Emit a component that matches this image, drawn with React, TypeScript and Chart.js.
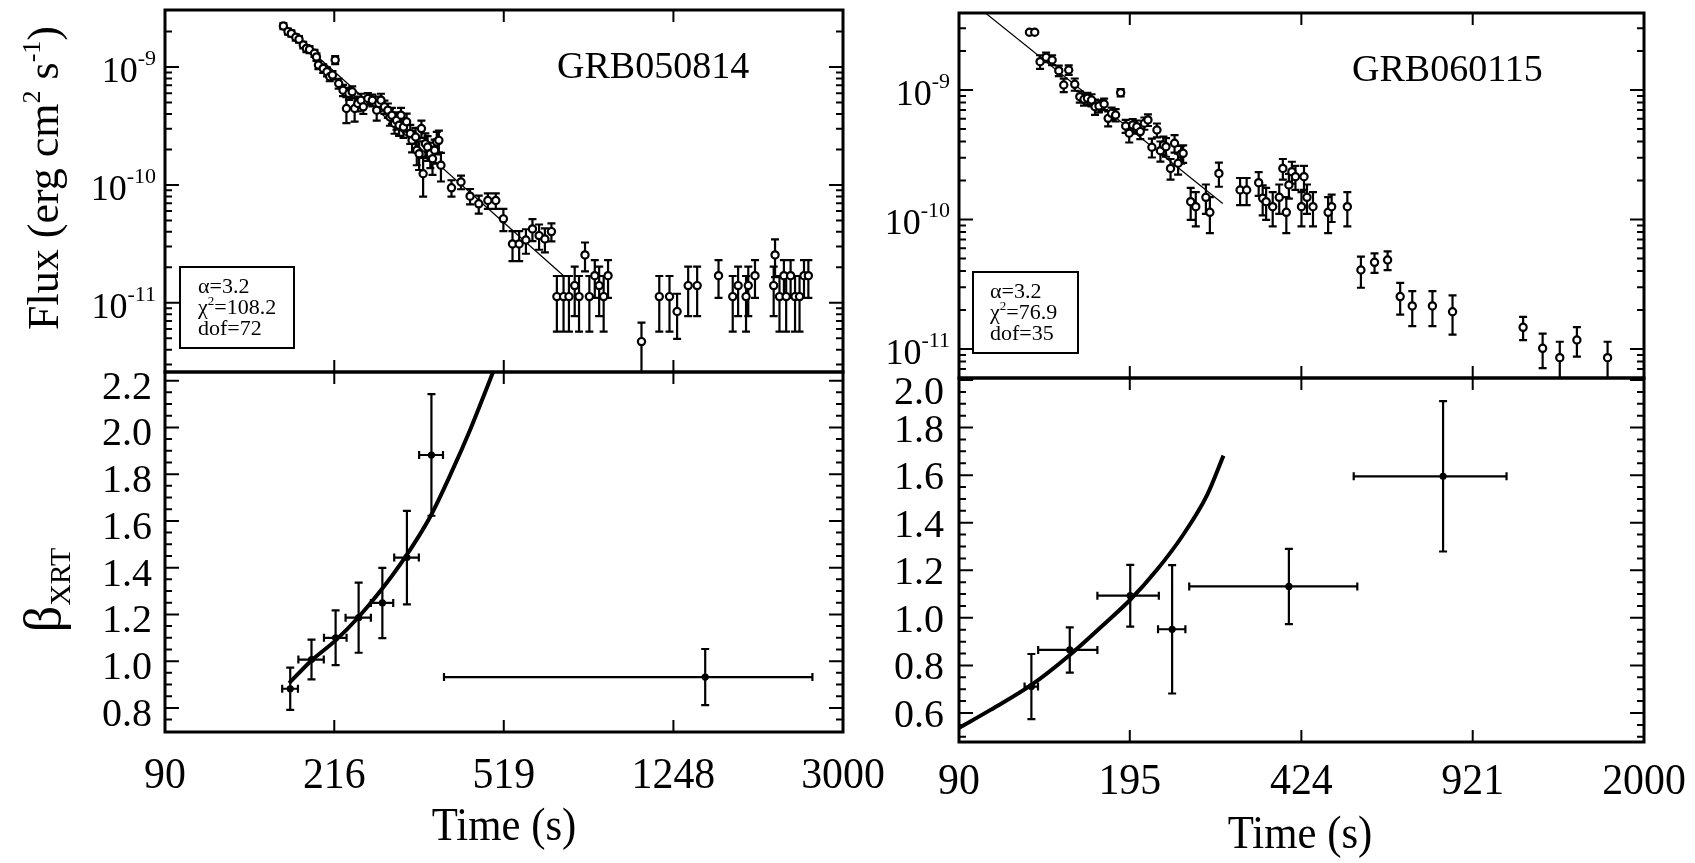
import React, { useEffect, useRef } from "react";
import { Chart, registerables } from "chart.js";

Chart.register(...registerables);

const W = 1695;
const H = 863;
const FONT = '"Liberation Serif", "Times New Roman", Times, serif';

// ---------------- tick labels ----------------
const L_X_TICKS = [90, 216, 519, 1248, 3000];
const R_X_TICKS = [90, 195, 424, 921, 2000];
const FLUX_TICKS = [1e-11, 1e-10, 1e-9];
const L_BETA_TICKS = [0.8, 1.0, 1.2, 1.4, 1.6, 1.8, 2.0, 2.2];
const R_BETA_TICKS = [0.6, 0.8, 1.0, 1.2, 1.4, 1.6, 1.8, 2.0];

// ---------------- GRB050814 : flux ----------------
const L_FLUX_T = [
  166, 170, 173, 177, 180, 184, 187, 190, 195, 197, 199, 204, 208, 211, 214, 217,
  221, 226, 230, 233, 237, 240, 244, 248, 251, 257, 263, 269, 272, 275, 280, 285,
  288, 291, 295, 298, 302, 305, 309, 314, 320, 323, 329, 331, 335, 339, 342, 346,
  350, 355, 359, 363, 367, 371, 375,
  396, 416, 436, 456, 478, 498, 518, 543, 562, 582, 602, 623, 642, 664,
  683, 707, 727, 749, 766, 790, 808, 831, 850, 870, 890,
  1058, 1160, 1223, 1272, 1347, 1411, 1576, 1696, 1744, 1817, 1838, 1903, 2096, 2111,
  2160, 2210, 2236, 2288, 2341, 2396, 2452, 2508,
];
const L_FLUX = [
  2.23e-9, 2.0e-9, 1.93e-9, 1.79e-9, 1.72e-9, 1.54e-9, 1.44e-9, 1.41e-9, 1.31e-9, 1.22e-9, 1.04e-9, 9.74e-10, 9.13e-10, 8.28e-10, 8.55e-10, 1.15e-9,
  7.26e-10, 6.37e-10, 4.45e-10, 5.97e-10, 6.17e-10, 4.45e-10, 4.91e-10, 5.24e-10, 4.6e-10, 5.41e-10, 5.24e-10, 4.31e-10, 4.91e-10, 5.24e-10, 4.6e-10, 4.31e-10,
  3.78e-10, 3.9e-10, 3.32e-10, 3.54e-10, 3.21e-10, 3.9e-10, 3.11e-10, 3.43e-10, 2.73e-10, 2.39e-10, 2.55e-10, 1.97e-10, 1.84e-10, 3.01e-10, 1.245e-10, 2.24e-10,
  2.1e-10, 1.84e-10, 1.67e-10, 1.97e-10, 2.32e-10, 2.39e-10, 1.47e-10,
  9.46e-11, 1.06e-10, 8.04e-11, 6.92e-11, 7.38e-11, 7.38e-11, 5.16e-11, 3.16e-11, 3.16e-11, 3.41e-11, 4.24e-11, 3.72e-11, 3.48e-11, 4.02e-11,
  1.13e-11, 1.13e-11, 1.13e-11, 1.4e-11, 1.13e-11, 2.55e-11, 1.13e-11, 1.7e-11, 1.4e-11, 1.13e-11, 1.7e-11,
  4.69e-12, 1.13e-11, 1.13e-11, 8.44e-12, 1.4e-11, 1.4e-11, 1.7e-11, 1.13e-11, 1.4e-11, 1.13e-11, 1.4e-11, 1.7e-11, 1.4e-11, 2.55e-11,
  1.13e-11, 1.7e-11, 1.13e-11, 1.7e-11, 1.13e-11, 1.13e-11, 1.7e-11, 1.7e-11,
];
const L_FLUX_ERR = [
  1.3e-10, 1.2e-10, 1.2e-10, 1.1e-10, 1.1e-10, 1.0e-10, 1.0e-10, 1.0e-10, 0.9e-10, 0.9e-10, 0.8e-10, 0.8e-10, 0.8e-10, 0.7e-10, 0.7e-10, 0.9e-10,
  0.7e-10, 0.7e-10, 1.1e-10, 0.7e-10, 0.7e-10, 1.0e-10, 0.7e-10, 0.7e-10, 0.6e-10, 0.6e-10, 0.6e-10, 0.8e-10, 0.7e-10, 0.7e-10, 0.6e-10, 0.6e-10,
  0.6e-10, 0.6e-10, 0.6e-10, 0.6e-10, 0.6e-10, 0.6e-10, 0.6e-10, 0.6e-10, 0.5e-10, 0.5e-10, 0.5e-10, 0.5e-10, 0.5e-10, 0.5e-10, 0.45e-10, 0.5e-10,
  0.5e-10, 0.45e-10, 0.45e-10, 0.45e-10, 0.5e-10, 0.5e-10, 0.4e-10,
  1.5e-11, 1.4e-11, 1.2e-11, 1.2e-11, 1.1e-11, 1.1e-11, 1.1e-11, 0.9e-11, 0.9e-11, 0.8e-11, 0.9e-11, 0.9e-11, 0.8e-11, 0.7e-11,
  0.56e-11, 0.56e-11, 0.56e-11, 0.63e-11, 0.56e-11, 0.7e-11, 0.56e-11, 0.6e-11, 0.63e-11, 0.56e-11, 0.6e-11,
  0.21e-11, 0.56e-11, 0.56e-11, 0.35e-11, 0.63e-11, 0.63e-11, 0.6e-11, 0.56e-11, 0.63e-11, 0.56e-11, 0.63e-11, 0.6e-11, 0.63e-11, 0.9e-11,
  0.56e-11, 0.6e-11, 0.56e-11, 0.6e-11, 0.56e-11, 0.56e-11, 0.6e-11, 0.6e-11,
];
const L_FIT_T = [180, 707];
const L_FIT_F = [1.69e-9, 1.7e-11];

// ---------------- GRB050814 : beta ----------------
const L_BETA_T = [172, 192, 217.5, 245, 277, 314.5, 357, 1471];
const L_BETA_TERR = [7, 12.6, 12.7, 16, 16, 20, 22, 1090];
const L_BETA = [0.882, 1.007, 1.1, 1.186, 1.249, 1.443, 1.882, 0.932];
const L_BETA_ERR = [0.09, 0.085, 0.117, 0.15, 0.15, 0.2, 0.26, 0.12];
const L_BFIT_T = [171, 192, 217.5, 245, 275, 312, 354.5, 398, 436, 467, 491.5];
const L_BFIT = [0.906, 1.003, 1.089, 1.189, 1.303, 1.446, 1.617, 1.817, 1.989, 2.131, 2.239];

// ---------------- GRB060115 : flux ----------------
const R_FLUX_T = [
  123.8, 126.8, 129.9, 133.5, 137.2, 141.4, 144.6, 147.9, 152.0, 155.5, 158.5, 161.0, 164.0, 166.6, 169.6, 173.6,
  176.8, 179.6, 182.9, 187.1, 191.4, 194.5, 197.6, 201.3, 204.5, 208.3, 211.7, 215.5, 220.5, 224.0, 227.1, 229.7,
  234.5, 238.8, 242.7, 246.0, 248.3, 256.9, 262.9, 275.2, 280.2, 291.9, 321.3, 331.0, 349.5, 355.9, 361.5, 372.4,
  383.6, 389.9, 396.1, 400.7, 406.2, 412.8, 424.2, 429.1, 434.9, 446.9, 478.6, 486.3, 522.1,
  555.2, 590.5, 626.5, 663.2, 700.5, 767.5, 840.6, 1157, 1264, 1366, 1476, 1696,
];
const R_FLUX = [
  2.79e-9, 2.79e-9, 1.655e-9, 1.79e-9, 1.705e-9, 1.41e-9, 1.093e-9, 1.427e-9, 1.106e-9, 8.88e-10, 8.47e-10, 8.62e-10, 8.37e-10, 7.43e-10, 7.52e-10, 7.79e-10,
  6.04e-10, 6.6e-10, 6.41e-10, 9.54e-10, 5.27e-10, 4.63e-10, 5.37e-10, 5.21e-10, 4.77e-10, 5.53e-10, 5.87e-10, 3.61e-10, 4.91e-10, 3.4e-10, 3.76e-10, 3.65e-10,
  2.48e-10, 3.88e-10, 2.72e-10, 3.2e-10, 3.24e-10, 1.373e-10, 1.256e-10, 1.483e-10, 1.136e-10, 2.27e-10, 1.69e-10, 1.69e-10, 1.924e-10, 1.457e-10, 1.373e-10, 1.256e-10,
  1.483e-10, 2.48e-10, 1.136e-10, 1.85e-10, 2.34e-10, 2.14e-10, 1.256e-10, 2.14e-10, 1.483e-10, 1.256e-10, 1.136e-10, 1.256e-10, 1.256e-10,
  4.07e-11, 4.67e-11, 4.87e-11, 2.54e-11, 2.15e-11, 2.15e-11, 1.94e-11, 1.47e-11, 1.012e-11, 8.57e-12, 1.174e-11, 8.57e-12,
];
const R_FLUX_ERR = [
  0.06e-9, 0.06e-9, 0.2e-9, 0.15e-9, 0.15e-9, 0.13e-9, 0.13e-9, 0.12e-9, 0.12e-9, 0.9e-10, 0.9e-10, 0.9e-10, 0.9e-10, 1.0e-10, 0.8e-10, 0.8e-10,
  0.8e-10, 0.7e-10, 0.7e-10, 0.6e-10, 0.6e-10, 0.7e-10, 0.6e-10, 0.6e-10, 0.6e-10, 0.6e-10, 0.6e-10, 0.6e-10, 0.6e-10, 0.6e-10, 0.6e-10, 0.6e-10,
  0.45e-10, 0.6e-10, 0.5e-10, 0.5e-10, 0.5e-10, 0.38e-10, 0.37e-10, 0.38e-10, 0.35e-10, 0.48e-10, 0.4e-10, 0.4e-10, 0.4e-10, 0.38e-10, 0.38e-10, 0.37e-10,
  0.38e-10, 0.45e-10, 0.35e-10, 0.4e-10, 0.45e-10, 0.45e-10, 0.37e-10, 0.45e-10, 0.38e-10, 0.37e-10, 0.35e-10, 0.3e-10, 0.37e-10,
  1.1e-11, 0.8e-11, 0.8e-11, 0.7e-11, 0.65e-11, 0.65e-11, 0.65e-11, 0.3e-11, 0.3e-11, 0.28e-11, 0.3e-11, 0.28e-11,
];
const R_FIT_T = [101.6, 297];
const R_FIT_F = [3.91e-9, 1.33e-10];

// ---------------- GRB060115 : beta ----------------
const R_BETA_T = [124.9, 148.6, 195.4, 236.2, 400.7, 805.4];
const R_BETA_TERR = [3.8, 19.8, 27, 14.6, 145.5, 268];
const R_BETA = [0.711, 0.865, 1.093, 0.952, 1.132, 1.595];
const R_BETA_ERR = [0.137, 0.095, 0.13, 0.27, 0.158, 0.316];
const R_BFIT_T = [90, 103.8, 124.9, 148.6, 171.6, 195.4, 220.5, 247.0, 277.0, 298];
const R_BFIT = [0.537, 0.613, 0.718, 0.844, 0.964, 1.076, 1.202, 1.342, 1.518, 1.682];

// ---------------- helpers ----------------
type Seg = { t: string; size: number; dy?: number };

function drawRich(ctx: any, segs: Seg[], x: number, y: number, align: string, sx = 1) {
  const widths = segs.map((s) => {
    ctx.font = `${s.size}px ${FONT}`;
    return ctx.measureText(s.t).width * sx;
  });
  const total = widths.reduce((a, b) => a + b, 0);
  let cx = align === "left" ? x : align === "right" ? x - total : x - total / 2;
  segs.forEach((s, i) => {
    ctx.save();
    ctx.font = `${s.size}px ${FONT}`;
    ctx.textAlign = "left";
    ctx.textBaseline = "alphabetic";
    ctx.translate(cx, y + (s.dy || 0));
    ctx.scale(sx, 1);
    ctx.fillText(s.t, 0, 0);
    ctx.restore();
    cx += widths[i];
  });
}

function logMinor(min: number, max: number) {
  const out: number[] = [];
  for (let e = Math.floor(Math.log10(min)); e <= Math.ceil(Math.log10(max)); e++) {
    for (let k = 2; k <= 9; k++) {
      const v = k * Math.pow(10, e);
      if (v >= min && v <= max) out.push(v);
    }
  }
  return out;
}

function linMinor(min: number, max: number, step: number) {
  const out: number[] = [];
  for (let i = Math.ceil(min / step - 1e-9); i * step <= max + 1e-9; i++) out.push(+(i * step).toFixed(4));
  return out;
}

const pts = (xs: number[], ys: number[]) => xs.map((x, i) => ({ x, y: ys[i] }));

const errorBarPlugin = {
  id: "errbars",
  beforeDatasetsDraw(chart: any) {
    const { ctx, chartArea: a } = chart;
    const xs = chart.scales.x;
    const ys = chart.scales.y;
    ctx.save();
    ctx.beginPath();
    ctx.rect(a.left, a.top, a.right - a.left, a.bottom - a.top);
    ctx.clip();
    ctx.strokeStyle = "#000";
    chart.data.datasets.forEach((ds: any) => {
      if (!ds.yErr && !ds.xErr) return;
      ctx.lineWidth = ds.errWidth || 2;
      const cap = ds.capHalf || 4;
      ctx.beginPath();
      ds.data.forEach((p: any, i: number) => {
        const px = xs.getPixelForValue(p.x);
        const py = ys.getPixelForValue(p.y);
        if (ds.yErr) {
          const e = ds.yErr[i];
          const y1 = ys.getPixelForValue(p.y + e);
          const lo = p.y - e;
          const y2 = lo > 0 ? ys.getPixelForValue(lo) : a.bottom + 20;
          ctx.moveTo(px, y1);
          ctx.lineTo(px, y2);
          ctx.moveTo(px - cap, y1);
          ctx.lineTo(px + cap, y1);
          ctx.moveTo(px - cap, y2);
          ctx.lineTo(px + cap, y2);
        }
        if (ds.xErr) {
          const e = ds.xErr[i];
          const x1 = xs.getPixelForValue(Math.max(p.x - e, 1e-3));
          const x2 = xs.getPixelForValue(p.x + e);
          ctx.moveTo(x1, py);
          ctx.lineTo(x2, py);
          ctx.moveTo(x1, py - cap);
          ctx.lineTo(x1, py + cap);
          ctx.moveTo(x2, py - cap);
          ctx.lineTo(x2, py + cap);
        }
      });
      ctx.stroke();
    });
    ctx.restore();
  },
};

type Area = { left: number; top: number; right: number; bottom: number };
interface Panel {
  area: Area;
  x: [number, number];
  y: [number, number];
  yLog: boolean;
  xTicks: number[];
  xLabels: boolean;
  xLabelBase: number;
  yTicks: number[];
  yMinor: number[];
  yLabel: (v: number) => Seg[];
  yLabelRight: number;
  yLabelDy: (v: number) => number;
  datasets: any[];
  decorate?: (ctx: any) => void;
}

function framePlugin(p: Panel) {
  return {
    id: "frame",
    afterDraw(chart: any) {
      const ctx = chart.ctx;
      const a = chart.chartArea;
      const xs = chart.scales.x;
      const ys = chart.scales.y;
      ctx.save();
      ctx.strokeStyle = "#000";
      ctx.fillStyle = "#000";
      ctx.lineWidth = 2;
      ctx.beginPath();
      p.xTicks.forEach((v) => {
        const x = xs.getPixelForValue(v);
        if (x <= a.left + 2 || x >= a.right - 2) return;
        ctx.moveTo(x, a.top);
        ctx.lineTo(x, a.top + 12);
        ctx.moveTo(x, a.bottom);
        ctx.lineTo(x, a.bottom - 12);
      });
      const yTick = (v: number, len: number) => {
        const y = ys.getPixelForValue(v);
        if (y < a.top + 1 || y > a.bottom - 1) return;
        ctx.moveTo(a.left, y);
        ctx.lineTo(a.left + len, y);
        ctx.moveTo(a.right, y);
        ctx.lineTo(a.right - len, y);
      };
      p.yMinor.forEach((v) => yTick(v, 7));
      p.yTicks.forEach((v) => yTick(v, 14));
      ctx.stroke();
      ctx.lineWidth = 3;
      ctx.strokeRect(a.left, a.top, a.right - a.left, a.bottom - a.top);
      p.yTicks.forEach((v) => {
        const y = ys.getPixelForValue(v);
        drawRich(ctx, p.yLabel(v), p.yLabelRight, y + p.yLabelDy(v), "right");
      });
      if (p.xLabels) {
        p.xTicks.forEach((v) => {
          const x = xs.getPixelForValue(v);
          drawRich(ctx, [{ t: String(v), size: 45 }], x, p.xLabelBase, "center", 0.93);
        });
      }
      if (p.decorate) p.decorate(ctx);
      ctx.restore();
    },
  };
}

const powLabel = (v: number): Seg[] => [
  { t: "10", size: 36 },
  { t: String(Math.round(Math.log10(v))), size: 22, dy: -17 },
];
const numLabel = (v: number): Seg[] => [{ t: v.toFixed(1), size: 40 }];

const fluxPoints = (t: number[], f: number[], e: number[]) => ({
  data: pts(t, f),
  yErr: e,
  errWidth: 2.2,
  capHalf: 4,
  pointRadius: 3.6,
  pointBorderWidth: 2.2,
  pointBorderColor: "#000",
  pointBackgroundColor: "#fff",
});
const betaPoints = (t: number[], te: number[], b: number[], be: number[]) => ({
  data: pts(t, b),
  xErr: te,
  yErr: be,
  errWidth: 2.2,
  capHalf: 4,
  pointRadius: 3.6,
  pointBorderWidth: 0,
  pointBackgroundColor: "#000",
});
const fitLine = (t: number[], f: number[], w: number, smooth: boolean) => ({
  data: pts(t, f),
  showLine: true,
  pointRadius: 0,
  borderColor: "#000",
  borderWidth: w,
  cubicInterpolationMode: smooth ? "monotone" : "default",
});

function legendBox(ctx: any, x: number, y: number, w: number, h: number, tx: number, lines: Seg[][], bases: number[]) {
  ctx.fillStyle = "#fff";
  ctx.fillRect(x, y, w, h);
  ctx.lineWidth = 2;
  ctx.strokeRect(x, y, w, h);
  ctx.fillStyle = "#000";
  lines.forEach((l, i) => drawRich(ctx, l, tx, bases[i], "left"));
}

const LT: Area = { left: 165, top: 10, right: 843, bottom: 372 };
const LB: Area = { left: 165, top: 372, right: 843, bottom: 732 };
const RT: Area = { left: 959, top: 13, right: 1644, bottom: 378 };
const RB: Area = { left: 959, top: 378, right: 1644, bottom: 742 };

const PANELS: Panel[] = [
  {
    area: LT,
    x: [90, 3000],
    y: [2.59e-12, 3.05e-9],
    yLog: true,
    xTicks: L_X_TICKS,
    xLabels: false,
    xLabelBase: 0,
    yTicks: FLUX_TICKS,
    yMinor: logMinor(2.59e-12, 3.05e-9),
    yLabel: powLabel,
    yLabelRight: 156,
    yLabelDy: () => 15,
    datasets: [fluxPoints(L_FLUX_T, L_FLUX, L_FLUX_ERR), fitLine(L_FIT_T, L_FIT_F, 1.2, false)],
    decorate: (ctx) => {
      drawRich(ctx, [{ t: "GRB050814", size: 38 }], 557, 78, "left");
      legendBox(ctx, 180, 267, 114, 81, 198, [
        [{ t: "α=3.2", size: 22 }],
        [{ t: "χ", size: 22 }, { t: "2", size: 13, dy: -9 }, { t: "=108.2", size: 22 }],
        [{ t: "dof=72", size: 22 }],
      ], [293, 314, 335]);
      ctx.save();
      ctx.translate(58, 178);
      ctx.rotate(-Math.PI / 2);
      drawRich(ctx, [
        { t: "Flux (erg cm", size: 44 },
        { t: "2", size: 26, dy: -18 },
        { t: " s", size: 44 },
        { t: "-1", size: 26, dy: -18 },
        { t: ")", size: 44 },
      ], 0, 0, "center");
      ctx.restore();
    },
  },
  {
    area: LB,
    x: [90, 3000],
    y: [0.697, 2.237],
    yLog: false,
    xTicks: L_X_TICKS,
    xLabels: true,
    xLabelBase: 788,
    yTicks: L_BETA_TICKS,
    yMinor: linMinor(0.697, 2.237, 0.05),
    yLabel: numLabel,
    yLabelRight: 152,
    yLabelDy: () => 18,
    datasets: [betaPoints(L_BETA_T, L_BETA_TERR, L_BETA, L_BETA_ERR), fitLine(L_BFIT_T, L_BFIT, 4, true)],
    decorate: (ctx) => {
      drawRich(ctx, [{ t: "Time (s)", size: 46 }], 504, 840, "center", 0.93);
      ctx.save();
      ctx.translate(60, 590);
      ctx.rotate(-Math.PI / 2);
      drawRich(ctx, [
        { t: "β", size: 52 },
        { t: "XRT", size: 30, dy: 10 },
      ], 0, 0, "center");
      ctx.restore();
    },
  },
  {
    area: RT,
    x: [90, 2000],
    y: [5.97e-12, 3.93e-9],
    yLog: true,
    xTicks: R_X_TICKS,
    xLabels: false,
    xLabelBase: 0,
    yTicks: FLUX_TICKS,
    yMinor: logMinor(5.97e-12, 3.93e-9),
    yLabel: powLabel,
    yLabelRight: 950,
    yLabelDy: () => 15,
    datasets: [fluxPoints(R_FLUX_T, R_FLUX, R_FLUX_ERR), fitLine(R_FIT_T, R_FIT_F, 1.2, false)],
    decorate: (ctx) => {
      drawRich(ctx, [{ t: "GRB060115", size: 38 }], 1352, 81, "left");
      legendBox(ctx, 973, 272, 105, 81, 990, [
        [{ t: "α=3.2", size: 22 }],
        [{ t: "χ", size: 22 }, { t: "2", size: 13, dy: -9 }, { t: "=76.9", size: 22 }],
        [{ t: "dof=35", size: 22 }],
      ], [298, 319, 340]);
    },
  },
  {
    area: RB,
    x: [90, 2000],
    y: [0.478, 2.0084],
    yLog: false,
    xTicks: R_X_TICKS,
    xLabels: true,
    xLabelBase: 794,
    yTicks: R_BETA_TICKS,
    yMinor: linMinor(0.478, 2.0084, 0.05),
    yLabel: numLabel,
    yLabelRight: 944,
    yLabelDy: (v) => (v >= 2 ? 24 : 14),
    datasets: [betaPoints(R_BETA_T, R_BETA_TERR, R_BETA, R_BETA_ERR), fitLine(R_BFIT_T, R_BFIT, 4, true)],
    decorate: (ctx) => {
      drawRich(ctx, [{ t: "Time (s)", size: 46 }], 1300, 848, "center", 0.93);
    },
  },
];

function makeChart(canvas: HTMLCanvasElement, p: Panel) {
  return new Chart(canvas, {
    type: "scatter",
    data: { datasets: p.datasets },
    options: {
      animation: false,
      responsive: false,
      events: [],
      layout: {
        padding: { left: p.area.left, top: p.area.top, right: W - p.area.right, bottom: H - p.area.bottom },
      },
      scales: {
        x: { type: "logarithmic", min: p.x[0], max: p.x[1], display: false },
        y: { type: p.yLog ? "logarithmic" : "linear", min: p.y[0], max: p.y[1], display: false },
      },
      plugins: { legend: { display: false }, tooltip: { enabled: false } },
    } as any,
    plugins: [errorBarPlugin, framePlugin(p)],
  } as any);
}

export default function App() {
  const refs = useRef<(HTMLCanvasElement | null)[]>([]);
  useEffect(() => {
    const charts = PANELS.map((p, i) => makeChart(refs.current[i] as HTMLCanvasElement, p));
    return () => charts.forEach((c) => c.destroy());
  }, []);
  return (
    <div style={{ position: "absolute", left: 0, top: 0, width: W, height: H, background: "#fff", overflow: "hidden" }}>
      {PANELS.map((_, i) => (
        <canvas
          key={i}
          ref={(el) => {
            refs.current[i] = el;
          }}
          width={W}
          height={H}
          style={{ position: "absolute", left: 0, top: 0, width: W, height: H }}
        />
      ))}
    </div>
  );
}
